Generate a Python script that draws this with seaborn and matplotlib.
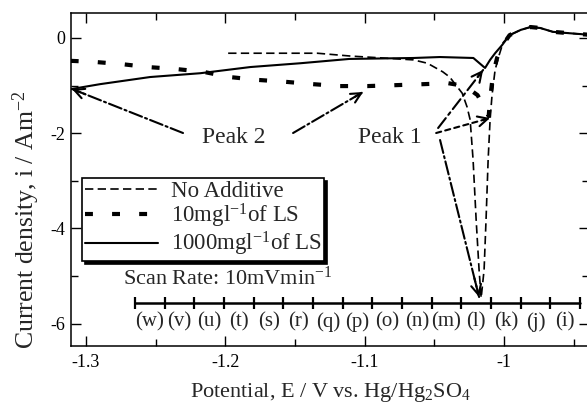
import matplotlib
matplotlib.use("Agg")
import matplotlib.pyplot as plt
import seaborn as sns
import pandas as pd
from matplotlib.ticker import MultipleLocator, FixedLocator

# ---------------- data ----------------
na_x = [-1.198, -1.134, -1.110, -1.087, -1.065, -1.055, -1.044, -1.039, -1.030, -1.0265,
        -1.0243, -1.0222, -1.020, -1.0179, -1.0164, -1.0143, -1.0129, -1.0114, -1.010,
        -1.0086, -1.0064, -1.0035, -1.0007, -0.996, -0.988, -0.981, -0.974, -0.965, -0.953, -0.940]
na_y = [-0.32, -0.32, -0.38, -0.42, -0.46, -0.53, -0.71, -0.82, -1.16, -1.45,
        -1.72, -2.56, -3.82, -4.87, -5.46, -4.87, -3.82, -2.56, -1.72,
        -1.20, -0.67, -0.36, -0.10, 0.06, 0.17, 0.23, 0.21, 0.13, 0.10, 0.07]

ls10_x = [-1.311, -1.295, -1.274, -1.256, -1.236, -1.216, -1.197, -1.177, -1.157, -1.137,
          -1.118, -1.098, -1.077, -1.058, -1.040, -1.028, -1.019, -1.014, -1.011, -1.010,
          -1.008, -1.005, -1.001, -0.996, -0.988, -0.981, -0.974, -0.965, -0.953, -0.940]
ls10_y = [-0.48, -0.50, -0.55, -0.61, -0.65, -0.71, -0.82, -0.88, -0.92, -0.97,
          -1.01, -1.01, -0.99, -0.97, -0.95, -1.01, -1.20, -1.47, -1.64, -1.30,
          -0.78, -0.42, -0.15, 0.06, 0.17, 0.23, 0.21, 0.13, 0.10, 0.07]

ls1000_x = [-1.310, -1.290, -1.254, -1.218, -1.182, -1.146, -1.111, -1.065, -1.046, -1.022,
            -1.016, -1.0136, -1.010, -1.0064, -1.0014, -0.996, -0.988, -0.981, -0.974,
            -0.965, -0.953, -0.940]
ls1000_y = [-1.07, -0.97, -0.82, -0.74, -0.61, -0.53, -0.44, -0.42, -0.40, -0.42,
            -0.57, -0.63, -0.46, -0.32, -0.15, 0.06, 0.17, 0.23, 0.21,
            0.13, 0.10, 0.07]

series_labels = ["No Additive", "10mgl$^{-1}$of LS", "1000mgl$^{-1}$of LS"]

x_ticks = [-1.3, -1.2, -1.1, -1.0]
x_tick_labels = ["-1.3", "-1.2", "-1.1", "-1"]
y_ticks = [0, -2, -4, -6]
y_tick_labels = ["0", "-2", "-4", "-6"]

scale_labels = ["(w)", "(v)", "(u)", "(t)", "(s)", "(r)", "(q)", "(p)", "(o)",
                "(n)", "(m)", "(l)", "(k)", "(j)", "(i)"]
scale_start = -1.2648
scale_step = 0.02129

# ---------------- style ----------------
sns.set_style("ticks")
plt.rcParams["font.family"] = ["Liberation Serif", "DejaVu Serif"]
plt.rcParams["mathtext.fontset"] = "custom"
plt.rcParams["mathtext.rm"] = "Liberation Serif"
plt.rcParams["mathtext.it"] = "Liberation Serif:italic"
plt.rcParams["axes.unicode_minus"] = False

fig = plt.figure(figsize=(5.87, 4.03), dpi=100)
ax = fig.add_axes([71 / 587, 57 / 403, 518 / 587, 333 / 403])

df_na = pd.DataFrame({"x": na_x, "y": na_y})
df_10 = pd.DataFrame({"x": ls10_x, "y": ls10_y})
df_1000 = pd.DataFrame({"x": ls1000_x, "y": ls1000_y})

sns.lineplot(data=df_na, x="x", y="y", sort=False, estimator=None, ax=ax, color="black",
             lw=1.2, linestyle=(0, (5, 2.6)), label=series_labels[0])
sns.lineplot(data=df_10, x="x", y="y", sort=False, estimator=None, ax=ax, color="black",
             lw=3.0, linestyle=(0, (1.9, 4.6)), label=series_labels[1])
sns.lineplot(data=df_1000, x="x", y="y", sort=False, estimator=None, ax=ax, color="black",
             lw=1.5, linestyle="-", label=series_labels[2])

ax.set_xlim(-1.3108, -0.939)
ax.set_ylim(-6.47, 0.525)

ax.xaxis.set_major_locator(FixedLocator(x_ticks))
ax.set_xticklabels(x_tick_labels)
ax.xaxis.set_minor_locator(MultipleLocator(0.05))
ax.yaxis.set_major_locator(FixedLocator(y_ticks))
ax.set_yticklabels(y_tick_labels)
ax.yaxis.set_minor_locator(MultipleLocator(1))
ax.tick_params(which="both", direction="in", top=True, right=True, colors="black",
               labelsize=13, width=1)
ax.tick_params(which="major", length=7)
ax.tick_params(which="minor", length=5)
ax.tick_params(axis="x", pad=6)
ax.tick_params(axis="y", pad=4)
for s in ax.spines.values():
    s.set_color("black")
    s.set_linewidth(1.1)

ax.set_xlabel("Potential, E / V vs. Hg/Hg$_2$SO$_4$", fontsize=16, labelpad=7)
ax.set_ylabel("Current density, i / Am$^{-2}$", fontsize=18.5)
ax.yaxis.set_label_coords(-0.056, 0.378)

leg = ax.legend(loc="upper left", bbox_to_anchor=(0.021, 0.505), borderaxespad=0,
                fontsize=16.5, handlelength=3.2, handletextpad=0.55, labelspacing=0.0,
                borderpad=0.12, fancybox=False, framealpha=1, edgecolor="black",
                shadow={"color": "black", "alpha": 1})
leg.get_frame().set_linewidth(1.2)

# annotations
ax.text(-1.1938, -2.10, "Peak 2", fontsize=17, ha="center", va="center")
ax.text(-1.0818, -2.10, "Peak 1", fontsize=17, ha="center", va="center")
ax.text(-1.2734, -5.04, "Scan Rate: 10mVmin$^{-1}$", fontsize=16, ha="left", va="center")

arrows = [
    ((-1.2304, -1.996), (-1.3101, -1.071), "-."),
    ((-1.1514, -1.996), (-1.1011, -1.134), "-."),
    ((-1.0473, -1.891), (-1.0150, -0.672), (0, (6, 2, 1.5, 2))),
    ((-1.0487, -1.996), (-1.0100, -1.681), (0, (2.5, 2))),
    ((-1.0459, -2.143), (-1.0179, -5.441), "-."),
]
for start, end, lsty in arrows:
    ax.annotate("", xy=end, xytext=start,
                arrowprops=dict(arrowstyle="-", linestyle=lsty, lw=1.5, color="black",
                                shrinkA=0, shrinkB=0))
    fx = end[0] - (end[0] - start[0]) * 0.12
    fy = end[1] - (end[1] - start[1]) * 0.12
    ax.annotate("", xy=end, xytext=(fx, fy),
                arrowprops=dict(arrowstyle="->", lw=1.5, color="black",
                                mutation_scale=18, shrinkA=0, shrinkB=0))

# scale bar with letter labels
bar_y = -5.567
n = len(scale_labels)
bar_ticks = [scale_start + i * scale_step for i in range(n + 1)]
ax.plot([bar_ticks[0], bar_ticks[-1]], [bar_y, bar_y], color="black", lw=1.8)
ax.vlines(bar_ticks, bar_y - 0.13, bar_y + 0.13, color="black", lw=1.6)
for i, lab in enumerate(scale_labels):
    ax.text(scale_start + (i + 0.5) * scale_step, -5.97, lab, fontsize=15,
            ha="center", va="center")

fig.savefig("out.png", dpi=100)
